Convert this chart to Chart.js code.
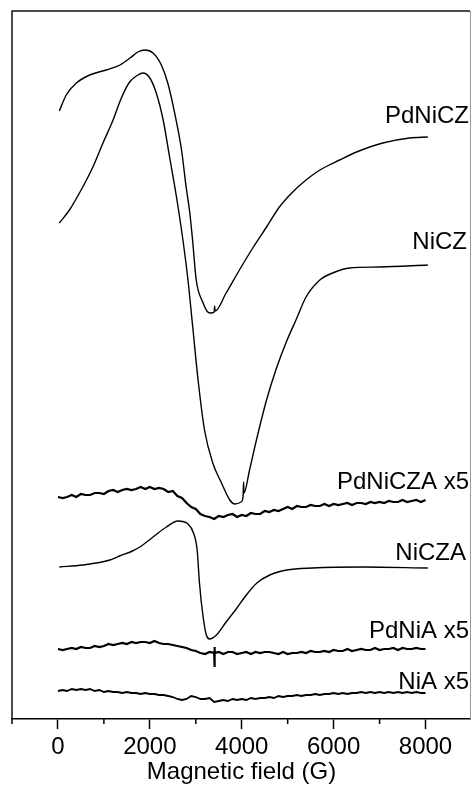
<!DOCTYPE html>
<html>
<head>
<meta charset="utf-8">
<script src="https://cdn.jsdelivr.net/npm/chart.js@4.4.1/dist/chart.umd.min.js"></script>
<style>
  html, body { margin: 0; padding: 0; background: #fff; }
  #wrap { width: 471px; height: 791px; }
</style>
</head>
<body>
<div id="wrap"><canvas id="c"></canvas></div>
<script>
/* EPR spectra, stacked with offsets (arbitrary units) */

const SERIES_NAMES = ["PdNiCZ", "NiCZ", "PdNiCZA x5", "NiCZA", "PdNiA x5", "NiA x5"];
const TICK_VALUES = [-1000, 0, 1000, 2000, 3000, 4000, 5000, 6000, 7000, 8000];
const TICK_LABELS = ["0", "2000", "4000", "6000", "8000"];

// smooth spectra: own field grids (G)
const PDNICZ_FIELD = [30, 180, 400, 690, 1050, 1350, 1570, 1740, 1890, 2070, 2250, 2390, 2540, 2690, 2790, 2870, 2930, 3010, 3160, 3260, 3330, 3400, 3410, 3420, 3660, 3950, 4240, 4540, 4820, 5110, 5400, 5700, 6130, 6500, 7070, 7650, 8050];
const PDNICZ = [608, 624, 636, 644, 649, 654, 661, 667, 669, 666, 654, 636, 606, 569, 532, 506, 479, 439, 416, 407, 406, 407, 413, 408, 426, 449, 471, 492, 512, 527, 539, 549, 559, 567, 576, 581, 582];

const NICZ_FIELD = [30, 250, 540, 760, 980, 1200, 1380, 1560, 1740, 1850, 2000, 2140, 2290, 2430, 2580, 2720, 2830, 2940, 3050, 3190, 3370, 3560, 3740, 3850, 3990, 4030, 4040, 4050, 4170, 4320, 4540, 4750, 4970, 5190, 5400, 5700, 5980, 6350, 7000, 8050];
const NICZ = [496, 509, 532, 552, 576, 599, 621, 637, 644, 646, 641, 626, 599, 562, 522, 479, 439, 389, 339, 289, 256, 236, 219, 215, 217, 223, 237, 226, 249, 279, 319, 350, 377, 400, 422, 439, 446, 451, 452, 454];

const NICZA_FIELD = [30, 540, 1130, 1340, 1620, 1780, 2070, 2360, 2610, 2830, 2950, 3030, 3080, 3160, 3230, 3300, 3450, 3660, 3880, 4100, 4330, 4610, 4980, 5540, 6630, 8050];
const NICZA = [152, 154, 159, 163, 168, 172, 182, 192, 198, 195, 186, 169, 136, 102, 84, 80, 84, 97, 110, 124, 136, 144, 149, 151, 152, 151];

// noisy (x5) spectra on a shared 100 G grid
const FIELD_100 = [0, 100, 200, 300, 400, 500, 600, 700, 800, 900, 1000, 1100, 1200, 1300, 1400, 1500, 1600, 1700, 1800, 1900,
  2000, 2100, 2200, 2300, 2400, 2500, 2600, 2700, 2800, 2900, 3000, 3100, 3200, 3300, 3400, 3500, 3600, 3700, 3800, 3900,
  4000, 4100, 4200, 4300, 4400, 4500, 4600, 4700, 4800, 4900, 5000, 5100, 5200, 5300, 5400, 5500, 5600, 5700, 5800, 5900,
  6000, 6100, 6200, 6300, 6400, 6500, 6600, 6700, 6800, 6900, 7000, 7100, 7200, 7300, 7400, 7500, 7600, 7700, 7800, 7900, 8000];

const PDNICZA = [222, 221, 222, 224, 222, 225, 224, 224, 226, 226, 225, 228, 229, 227, 229, 230, 229, 230, 232, 230,
  232, 230, 231, 230, 227, 228, 223, 221, 216, 212, 210, 205, 203, 202, 200, 203, 202, 204, 205, 202,
  204, 203, 206, 205, 205, 208, 207, 209, 208, 210, 212, 210, 213, 212, 212, 214, 213, 213, 215, 213,
  215, 214, 215, 216, 214, 216, 216, 215, 217, 216, 217, 216, 218, 217, 217, 219, 217, 218, 219, 217, 219];

const PDNIA = [70, 69, 70, 71, 70, 72, 71, 71, 73, 72, 73, 75, 74, 75, 76, 75, 77, 76, 77, 77,
  76, 78, 76, 75, 75, 74, 73, 72, 71, 69, 68, 66, 65, 67, 66, 67, 65, 67, 67, 65,
  66, 67, 65, 67, 66, 67, 67, 66, 65, 67, 65, 66, 66, 67, 66, 68, 67, 67, 68, 67,
  69, 68, 68, 70, 68, 69, 70, 69, 69, 71, 69, 70, 70, 71, 69, 71, 70, 70, 71, 70, 70];
const PDNIA_SPIKE_FIELD = [3405, 3410, 3415];
const PDNIA_SPIKE = [72, 52, 66];

const NIA = [28, 29, 28, 30, 29, 30, 29, 30, 28, 29, 27, 28, 27, 27, 26, 27, 26, 26, 25, 26,
  25, 25, 24, 24, 23, 22, 20, 19, 20, 23, 22, 20, 20, 21, 17, 18, 19, 18, 20, 19,
  20, 19, 21, 20, 21, 21, 22, 21, 23, 22, 23, 23, 24, 23, 24, 24, 25, 24, 25, 25,
  26, 25, 26, 25, 26, 26, 27, 26, 27, 26, 27, 26, 27, 26, 27, 26, 27, 26, 27, 26, 26];

const FONT = '"Liberation Sans", Arial, Helvetica, sans-serif';

function toPoints(fields, values, extraF, extraV) {
  const pts = fields.map((f, i) => ({ x: f, y: values[i] }));
  if (extraF) extraF.forEach((f, i) => pts.push({ x: f, y: extraV[i] }));
  return pts.sort((a, b) => a.x - b.x);
}

function smooth(data) {
  return { data, borderColor: "#000", borderWidth: 1.4, pointRadius: 0, cubicInterpolationMode: "monotone", fill: false };
}
function noisy(data, w) {
  return { data, borderColor: "#000", borderWidth: w, pointRadius: 0, tension: 0, fill: false };
}

// label placement (value units / pixels), not data
const LABEL_Y = [596, 470, 230, 159, 81, 30];
const LABEL_RIGHT = [469, 467, 469, 466, 469, 469];

const frameAndLabels = {
  id: "frameAndLabels",
  afterDatasetsDraw(chart) {
    const { ctx, chartArea: a, scales: { x, y } } = chart;
    ctx.save();
    ctx.strokeStyle = "#111"; ctx.lineWidth = 1.5;
    ctx.beginPath(); ctx.moveTo(a.left, a.bottom); ctx.lineTo(a.left, a.top); ctx.lineTo(a.right - 1, a.top); ctx.stroke();
    ctx.strokeStyle = "#999"; ctx.lineWidth = 1;
    ctx.beginPath(); ctx.moveTo(a.right - 0.5, a.top); ctx.lineTo(a.right - 0.5, a.bottom); ctx.stroke();
    // minor ticks (odd thousands)
    ctx.strokeStyle = "#000"; ctx.lineWidth = 1.5;
    x.ticks.forEach((t) => {
      if (t.value % 2000 === 0) return;
      const px = x.getPixelForValue(t.value);
      ctx.beginPath(); ctx.moveTo(px, a.bottom); ctx.lineTo(px, a.bottom + 5); ctx.stroke();
    });
    ctx.fillStyle = "#000"; ctx.font = "24px " + FONT;
    ctx.textAlign = "right"; ctx.textBaseline = "alphabetic";
    SERIES_NAMES.forEach((n, i) => ctx.fillText(n, LABEL_RIGHT[i], y.getPixelForValue(LABEL_Y[i])));
    ctx.restore();
  },
};

new Chart(document.getElementById("c"), {
  type: "line",
  data: {
    datasets: [
      smooth(toPoints(PDNICZ_FIELD, PDNICZ)),
      smooth(toPoints(NICZ_FIELD, NICZ)),
      noisy(toPoints(FIELD_100, PDNICZA), 2.2),
      smooth(toPoints(NICZA_FIELD, NICZA)),
      noisy(toPoints(FIELD_100, PDNIA, PDNIA_SPIKE_FIELD, PDNIA_SPIKE), 2.2),
      noisy(toPoints(FIELD_100, NIA), 1.8),
    ],
  },
  options: {
    responsive: true, maintainAspectRatio: false, devicePixelRatio: 1, animation: false,
    layout: { padding: { left: 12, top: 11, right: 0, bottom: 0 } },
    plugins: { legend: { display: false }, tooltip: { enabled: false } },
    scales: {
      x: {
        type: "linear", min: -1000, max: 8990,
        afterBuildTicks: (s) => { s.ticks = TICK_VALUES.map((v) => ({ value: v })); },
        afterFit: (s) => { s.height = 72; },
        border: { display: true, color: "#000", width: 1.5 },
        grid: {
          drawOnChartArea: false, drawTicks: true, tickLength: 10, tickWidth: 1.5,
          tickColor: (c) => (c.tick && c.tick.value % 2000 === 0 ? "#000" : "rgba(0,0,0,0)"),
        },
        ticks: {
          autoSkip: false, maxRotation: 0, padding: 4,
          color: "#000", font: { family: FONT, size: 24 },
          callback: (v) => (v % 2000 === 0 && v >= 0 ? TICK_LABELS[v / 2000] : ""),
        },
        title: {
          display: true, text: "Magnetic field (G)", color: "#000",
          font: { family: FONT, size: 24 }, padding: { top: 0, bottom: 4 },
        },
      },
      y: { display: false, min: 0, max: 708 },
    },
  },
  plugins: [frameAndLabels],
});
</script>
</body>
</html>
